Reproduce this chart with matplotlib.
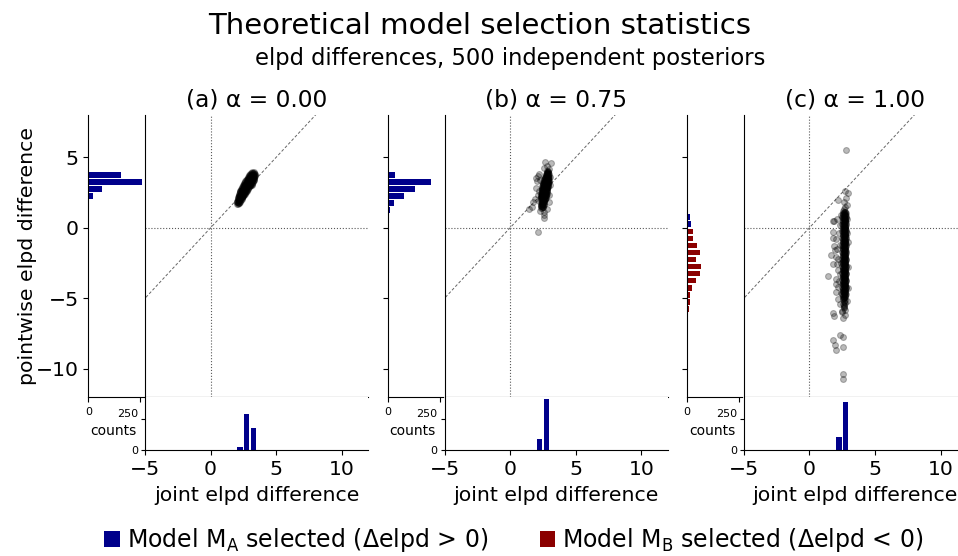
import matplotlib
matplotlib.use('Agg')
import matplotlib.pyplot as plt
from matplotlib.patches import Patch

# ---------------- data ----------------
panel_titles = ['(a) α = 0.00', '(b) α = 0.75', '(c) α = 1.00']

# scatter points (joint elpd difference, pointwise elpd difference)
a_points = [
    (2.02, 1.68), (2.10, 1.70),
    (1.98, 1.80), (2.08, 1.82), (2.18, 1.79),
    (2.04, 1.92), (2.14, 1.94), (2.24, 1.91),
    (2.06, 2.04), (2.16, 2.06), (2.28, 2.03), (2.36, 2.05),
    (2.10, 2.16), (2.20, 2.15), (2.32, 2.18), (2.42, 2.16),
    (2.14, 2.28), (2.24, 2.30), (2.36, 2.27), (2.46, 2.29),
    (2.18, 2.40), (2.30, 2.42), (2.42, 2.39), (2.52, 2.41), (2.60, 2.40),
    (2.22, 2.52), (2.34, 2.54), (2.46, 2.51), (2.58, 2.53), (2.68, 2.52),
    (2.28, 2.64), (2.40, 2.66), (2.52, 2.63), (2.64, 2.65), (2.76, 2.64),
    (2.34, 2.76), (2.46, 2.78), (2.58, 2.75), (2.70, 2.77), (2.84, 2.76),
    (2.40, 2.88), (2.52, 2.90), (2.64, 2.87), (2.76, 2.89), (2.90, 2.88),
    (2.48, 3.00), (2.60, 3.02), (2.72, 2.99), (2.84, 3.01), (2.98, 3.00), (3.10, 3.02),
    (2.54, 3.12), (2.66, 3.14), (2.78, 3.11), (2.92, 3.13), (3.04, 3.12), (3.16, 3.14),
    (2.62, 3.24), (2.74, 3.26), (2.86, 3.23), (2.98, 3.25), (3.10, 3.24), (3.22, 3.26),
    (2.70, 3.36), (2.82, 3.38), (2.94, 3.35), (3.06, 3.37), (3.18, 3.36), (3.28, 3.38),
    (2.78, 3.48), (2.90, 3.50), (3.02, 3.47), (3.14, 3.49), (3.26, 3.48), (3.34, 3.50),
    (2.88, 3.60), (3.00, 3.62), (3.12, 3.59), (3.24, 3.61), (3.34, 3.60),
    (2.96, 3.72), (3.08, 3.74), (3.20, 3.71), (3.32, 3.73),
    (3.04, 3.84), (3.16, 3.86), (3.28, 3.83), (3.38, 3.85),
    (3.14, 3.96), (3.28, 3.94),
    (2.95, 3.30), (3.05, 3.45), (3.15, 3.60), (2.85, 3.15), (2.75, 3.00), (3.00, 3.55),
    (2.06, 1.74), (2.14, 1.75),
    (2.03, 1.86), (2.13, 1.87), (2.21, 1.85),
    (2.09, 1.98), (2.19, 1.99), (2.30, 1.97),
    (2.11, 2.10), (2.22, 2.11), (2.33, 2.09), (2.40, 2.10),
    (2.15, 2.22), (2.26, 2.23), (2.37, 2.21), (2.45, 2.22),
    (2.19, 2.34), (2.30, 2.35), (2.41, 2.33), (2.50, 2.34), (2.56, 2.35),
    (2.24, 2.46), (2.36, 2.47), (2.48, 2.45), (2.57, 2.46), (2.64, 2.47),
    (2.28, 2.58), (2.40, 2.59), (2.52, 2.57), (2.63, 2.58), (2.72, 2.59),
    (2.31, 2.70), (2.43, 2.71), (2.55, 2.69), (2.67, 2.70), (2.80, 2.71),
    (2.37, 2.82), (2.49, 2.83), (2.61, 2.81), (2.73, 2.82), (2.87, 2.83),
    (2.44, 2.94), (2.56, 2.95), (2.68, 2.93), (2.80, 2.94), (2.94, 2.95), (3.04, 2.93),
    (2.51, 3.06), (2.63, 3.07), (2.75, 3.05), (2.88, 3.06), (3.01, 3.07), (3.13, 3.05),
    (2.58, 3.18), (2.70, 3.19), (2.82, 3.17), (2.95, 3.18), (3.07, 3.19), (3.19, 3.17),
    (2.66, 3.30), (2.78, 3.31), (2.90, 3.29), (3.02, 3.30), (3.14, 3.31), (3.25, 3.29),
    (2.74, 3.42), (2.86, 3.43), (2.98, 3.41), (3.10, 3.42), (3.22, 3.43), (3.31, 3.41),
    (2.83, 3.54), (2.95, 3.55), (3.07, 3.53), (3.19, 3.54), (3.30, 3.55),
    (2.92, 3.66), (3.04, 3.67), (3.16, 3.65), (3.28, 3.66), (3.36, 3.67),
    (3.00, 3.78), (3.12, 3.79), (3.24, 3.77), (3.35, 3.78),
    (3.09, 3.90), (3.22, 3.91), (3.33, 3.89),
]

b_points = [
    (2.36, 1.40), (2.46, 1.42),
    (2.34, 1.52), (2.44, 1.54), (2.52, 1.51),
    (2.38, 1.64), (2.46, 1.66), (2.55, 1.63),
    (2.36, 1.76), (2.45, 1.78), (2.54, 1.75),
    (2.40, 1.88), (2.50, 1.90), (2.58, 1.87),
    (2.38, 2.00), (2.48, 2.02), (2.58, 1.99), (2.66, 2.01),
    (2.34, 2.12), (2.42, 2.14), (2.52, 2.11), (2.60, 2.13), (2.70, 2.12),
    (2.36, 2.24), (2.44, 2.26), (2.54, 2.23), (2.62, 2.25), (2.72, 2.24),
    (2.38, 2.36), (2.46, 2.38), (2.56, 2.35), (2.64, 2.37), (2.74, 2.36),
    (2.36, 2.48), (2.46, 2.50), (2.56, 2.47), (2.66, 2.49), (2.76, 2.48),
    (2.40, 2.60), (2.50, 2.62), (2.58, 2.59), (2.68, 2.61), (2.78, 2.60),
    (2.42, 2.72), (2.50, 2.74), (2.60, 2.71), (2.70, 2.73), (2.80, 2.72),
    (2.44, 2.84), (2.54, 2.86), (2.62, 2.83), (2.72, 2.85), (2.82, 2.84),
    (2.46, 2.96), (2.56, 2.98), (2.66, 2.95), (2.76, 2.97), (2.86, 2.96),
    (2.48, 3.08), (2.58, 3.10), (2.68, 3.07), (2.78, 3.09), (2.88, 3.08),
    (2.52, 3.20), (2.62, 3.22), (2.72, 3.19), (2.82, 3.21), (2.90, 3.20),
    (2.56, 3.32), (2.66, 3.34), (2.76, 3.31), (2.86, 3.33), (2.92, 3.32),
    (2.62, 3.44), (2.72, 3.46), (2.82, 3.43), (2.90, 3.45),
    (2.66, 3.56), (2.76, 3.58), (2.86, 3.55), (2.92, 3.57),
    (2.70, 3.68), (2.80, 3.70), (2.90, 3.67),
    (2.74, 3.80), (2.84, 3.82), (2.92, 3.79),
    (2.80, 3.92), (2.90, 3.94),
    (2.84, 4.02), (2.92, 4.04),
    (2.40, 1.46), (2.49, 1.47),
    (2.39, 1.58), (2.48, 1.59),
    (2.41, 1.70), (2.50, 1.71), (2.58, 1.69),
    (2.40, 1.82), (2.49, 1.83), (2.57, 1.81),
    (2.43, 1.94), (2.53, 1.95), (2.62, 1.93),
    (2.43, 2.06), (2.53, 2.07), (2.63, 2.05), (2.68, 2.06),
    (2.38, 2.18), (2.47, 2.19), (2.56, 2.17), (2.65, 2.18),
    (2.40, 2.30), (2.49, 2.31), (2.59, 2.29), (2.68, 2.30), (2.76, 2.31),
    (2.41, 2.42), (2.51, 2.43), (2.60, 2.41), (2.70, 2.42), (2.78, 2.43),
    (2.41, 2.54), (2.51, 2.55), (2.61, 2.53), (2.71, 2.54), (2.80, 2.55),
    (2.45, 2.66), (2.54, 2.67), (2.63, 2.65), (2.73, 2.66), (2.82, 2.67),
    (2.47, 2.78), (2.56, 2.79), (2.66, 2.77), (2.76, 2.78), (2.84, 2.79),
    (2.49, 2.90), (2.59, 2.91), (2.68, 2.89), (2.78, 2.90), (2.86, 2.91),
    (2.51, 3.02), (2.61, 3.03), (2.71, 3.01), (2.81, 3.02), (2.89, 3.03),
    (2.53, 3.14), (2.63, 3.15), (2.73, 3.13), (2.83, 3.14), (2.91, 3.15),
    (2.57, 3.26), (2.67, 3.27), (2.77, 3.25), (2.86, 3.26), (2.93, 3.27),
    (2.60, 3.38), (2.70, 3.39), (2.79, 3.37), (2.88, 3.38), (2.94, 3.39),
    (2.65, 3.50), (2.75, 3.51), (2.84, 3.49), (2.92, 3.50),
    (2.69, 3.62), (2.79, 3.63), (2.88, 3.61), (2.94, 3.62),
    (2.73, 3.74), (2.83, 3.75), (2.92, 3.73),
    (2.78, 3.86), (2.87, 3.87), (2.94, 3.85),
    (2.83, 3.98), (2.91, 3.99),
    (2.67, 4.68), (3.10, 4.60), (2.55, 4.25), (2.85, 4.35), (2.95, 4.20), (1.45, 1.30),
    (1.70, 1.50), (1.90, 2.05), (1.95, 2.80), (2.05, 3.30), (2.00, 3.55), (2.15, 3.70),
    (2.20, 3.80), (2.25, 3.40), (2.18, 2.60), (2.10, 2.30), (2.20, 1.90), (2.09, -0.31),
    (2.60, 0.94), (2.62, 0.66), (2.55, 1.10), (1.75, 1.80), (2.85, 1.30), (2.95, 1.80),
    (3.00, 2.30), (3.05, 3.00), (3.02, 3.60), (2.30, 1.20),
]

c_points = [
    (2.56, 1.18), (2.68, 1.14),
    (2.54, 1.05), (2.64, 1.02), (2.76, 1.07),
    (2.58, 0.93), (2.68, 0.89), (2.74, 0.95),
    (2.52, 0.80), (2.63, 0.77), (2.77, 0.82),
    (2.56, 0.68), (2.70, 0.64), (2.79, 0.70),
    (2.54, 0.55), (2.66, 0.52), (2.75, 0.57),
    (2.58, 0.43), (2.68, 0.39), (2.74, 0.45),
    (2.52, 0.30), (2.63, 0.27), (2.77, 0.32),
    (2.56, 0.18), (2.70, 0.14), (2.79, 0.20),
    (2.54, 0.05), (2.66, 0.02), (2.75, 0.07),
    (2.58, -0.07), (2.68, -0.11), (2.74, -0.05),
    (2.52, -0.20), (2.63, -0.23), (2.77, -0.18),
    (2.56, -0.32), (2.70, -0.36), (2.79, -0.30),
    (2.54, -0.45), (2.66, -0.48), (2.75, -0.43),
    (2.58, -0.57), (2.68, -0.61), (2.74, -0.55),
    (2.52, -0.70), (2.63, -0.73), (2.77, -0.68),
    (2.56, -0.82), (2.70, -0.86), (2.79, -0.80),
    (2.54, -0.95), (2.66, -0.98), (2.75, -0.93),
    (2.58, -1.07), (2.68, -1.11), (2.74, -1.05),
    (2.52, -1.20), (2.63, -1.23), (2.77, -1.18),
    (2.56, -1.32), (2.70, -1.36), (2.79, -1.30),
    (2.54, -1.45), (2.66, -1.48), (2.75, -1.43),
    (2.58, -1.57), (2.68, -1.61), (2.74, -1.55),
    (2.52, -1.70), (2.63, -1.73), (2.77, -1.68),
    (2.56, -1.82), (2.70, -1.86), (2.79, -1.80),
    (2.54, -1.95), (2.66, -1.98), (2.75, -1.93),
    (2.58, -2.07), (2.68, -2.11), (2.74, -2.05),
    (2.52, -2.20), (2.63, -2.23), (2.77, -2.18),
    (2.56, -2.32), (2.70, -2.36), (2.79, -2.30),
    (2.54, -2.45), (2.66, -2.48), (2.75, -2.43),
    (2.58, -2.57), (2.68, -2.61), (2.74, -2.55),
    (2.52, -2.70), (2.63, -2.73), (2.77, -2.68),
    (2.56, -2.82), (2.70, -2.86), (2.79, -2.80),
    (2.54, -2.95), (2.66, -2.98), (2.75, -2.93),
    (2.58, -3.07), (2.68, -3.11), (2.74, -3.05),
    (2.52, -3.20), (2.63, -3.23), (2.77, -3.18),
    (2.56, -3.32), (2.70, -3.36), (2.79, -3.30),
    (2.54, -3.45), (2.66, -3.48), (2.75, -3.43),
    (2.58, -3.57), (2.68, -3.61), (2.74, -3.55),
    (2.52, -3.70), (2.63, -3.73), (2.77, -3.68),
    (2.56, -3.82), (2.70, -3.86), (2.79, -3.80),
    (2.54, -3.95), (2.66, -3.98), (2.75, -3.93),
    (2.58, -4.07), (2.68, -4.11), (2.74, -4.05),
    (2.52, -4.20), (2.63, -4.23), (2.77, -4.18),
    (2.56, -4.32), (2.70, -4.36), (2.79, -4.30),
    (2.54, -4.45), (2.66, -4.48), (2.75, -4.43),
    (2.58, -4.57), (2.68, -4.61), (2.74, -4.55),
    (2.52, -4.70), (2.63, -4.73), (2.77, -4.68),
    (2.56, -4.82), (2.70, -4.86),
    (2.54, -4.95), (2.66, -4.98),
    (2.58, -5.07), (2.68, -5.11),
    (2.63, -5.23), (2.72, -5.30),
    (2.60, -5.42), (2.66, -5.55),
    (2.64, -5.70), (2.70, -5.82),
    (2.61, 1.12), (2.71, 1.10), (2.59, 0.99), (2.69, 0.97), (2.61, 0.86), (2.71, 0.84),
    (2.59, 0.74), (2.69, 0.72), (2.61, 0.61), (2.71, 0.59), (2.59, 0.49), (2.69, 0.47),
    (2.61, 0.36), (2.71, 0.34), (2.59, 0.24), (2.69, 0.22), (2.61, 0.11), (2.71, 0.09),
    (2.59, -0.01), (2.69, -0.03), (2.61, -0.14), (2.71, -0.16), (2.59, -0.26), (2.69, -0.28),
    (2.61, -0.39), (2.71, -0.41), (2.59, -0.51), (2.69, -0.53), (2.61, -0.64), (2.71, -0.66),
    (2.59, -0.76), (2.69, -0.78), (2.61, -0.89), (2.71, -0.91), (2.59, -1.01), (2.69, -1.03),
    (2.61, -1.14), (2.71, -1.16), (2.59, -1.26), (2.69, -1.28), (2.61, -1.39), (2.71, -1.41),
    (2.59, -1.51), (2.69, -1.53), (2.61, -1.64), (2.71, -1.66), (2.59, -1.76), (2.69, -1.78),
    (2.61, -1.89), (2.71, -1.91), (2.59, -2.01), (2.69, -2.03), (2.61, -2.14), (2.71, -2.16),
    (2.59, -2.26), (2.69, -2.28), (2.61, -2.39), (2.71, -2.41), (2.59, -2.51), (2.69, -2.53),
    (2.61, -2.64), (2.71, -2.66), (2.59, -2.76), (2.69, -2.78), (2.61, -2.89), (2.71, -2.91),
    (2.59, -3.01), (2.69, -3.03), (2.61, -3.14), (2.71, -3.16), (2.59, -3.26), (2.69, -3.28),
    (2.61, -3.39), (2.71, -3.41), (2.59, -3.51), (2.69, -3.53), (2.61, -3.64), (2.71, -3.66),
    (2.59, -3.76), (2.69, -3.78), (2.61, -3.89), (2.71, -3.91), (2.59, -4.01), (2.69, -4.03),
    (2.61, -4.14), (2.71, -4.16), (2.59, -4.26), (2.69, -4.28), (2.61, -4.39), (2.71, -4.41),
    (2.59, -4.51), (2.69, -4.53), (2.61, -4.64), (2.71, -4.66), (2.59, -4.76), (2.69, -4.78),
    (2.61, -4.89), (2.71, -4.91), (2.62, -5.01), (2.66, -5.20), (2.64, -5.45), (2.67, -5.65),
    (2.80, 5.50), (2.70, 2.60), (2.95, 2.48), (2.18, 1.94), (2.80, 2.13), (2.65, 1.82),
    (2.72, 1.50), (2.62, 1.35), (2.85, 1.60), (1.83, 0.47), (1.90, 0.45), (2.10, 0.60),
    (1.83, -0.31), (1.78, -0.71), (1.85, -1.30), (1.64, -1.94), (1.83, -2.60), (1.45, -3.43),
    (2.00, -4.00), (2.04, -4.55), (2.20, -5.07), (1.83, -6.03), (1.86, -6.27), (2.55, -6.38),
    (2.30, -7.57), (2.60, -7.73), (1.83, -7.97), (1.96, -8.32), (2.04, -8.68), (2.55, -8.42),
    (2.53, -10.40), (2.55, -10.70), (2.95, -1.00), (2.95, -2.80), (2.95, -4.30), (2.10, -1.50),
    (2.20, -2.20), (2.15, -3.00), (2.25, -3.80), (2.05, -0.80), (2.30, 0.20), (2.00, -2.10),
    (2.12, -2.60), (2.30, -1.20), (2.35, -3.30), (2.05, -3.60), (2.40, -4.60), (2.30, -5.40),
    (2.45, -6.00), (2.85, -5.20), (2.90, -0.40), (2.25, -0.40), (1.95, -1.60), (2.40, -2.50),
    (2.88, 0.60), (2.40, 0.90), (2.20, -4.20), (2.50, -5.90), (2.75, -6.20),
]

# marginal histogram of pointwise difference (bin centres, counts)
left_centers_a = [3.75, 3.25, 2.75, 2.25]
left_counts_a = [155, 258, 65, 22]
left_centers_b = [3.75, 3.25, 2.75, 2.25, 1.75, 1.25]
left_counts_b = [36, 205, 132, 79, 32, 9]
left_centers_c = [0.75, 0.25, -0.25, -0.75, -1.25, -1.75, -2.25, -2.75, -3.25, -3.75,
                  -4.25, -4.75, -5.25, -5.75]
left_counts_c = [12, 18, 27, 26, 47, 64, 45, 66, 60, 42, 23, 13, 13, 7]

# marginal histogram of joint difference
bottom_centers_a = [2.25, 2.75, 3.25]
bottom_counts_a = [30, 290, 180]
bottom_centers_b = [2.25, 2.75]
bottom_counts_b = [90, 410]
bottom_centers_c = [2.25, 2.75]
bottom_counts_c = [110, 390]

x_ticks = [-5, 0, 5, 10]
y_ticks = [-10, -5, 0, 5]
count_ticks = [0, 250]

# ---------------- figure ----------------
BLUE = '#00008b'
RED = '#8b0000'
W, H = 958, 556
fig = plt.figure(figsize=(W / 100, H / 100), dpi=100)


def rect(x0, y0, x1, y1):
    return [x0 / W, 1 - y1 / H, (x1 - x0) / W, (y1 - y0) / H]


panels = [
    (a_points, left_centers_a, left_counts_a, bottom_centers_a, bottom_counts_a),
    (b_points, left_centers_b, left_counts_b, bottom_centers_b, bottom_counts_b),
    (c_points, left_centers_c, left_counts_c, bottom_centers_c, bottom_counts_c),
]
offsets = [0, 299.5, 598.8]
FS = 14.7

for i, (pts, lc, lcnt, bc, bcnt) in enumerate(panels):
    dx = offsets[i]
    axL = fig.add_axes(rect(88.3 + dx, 115, 143.5 + dx, 397))
    axM = fig.add_axes(rect(145 + dx, 115, 368 + dx, 397))
    axB = fig.add_axes(rect(145 + dx, 397, 368 + dx, 450.3))

    sx = [p[0] for p in pts]
    sy = [p[1] for p in pts]

    # main scatter
    axM.axhline(0, color='0.35', lw=0.8, ls=':', zorder=1)
    axM.axvline(0, color='0.35', lw=0.8, ls=':', zorder=1)
    axM.plot([-12, 12], [-12, 12], color='0.4', lw=0.7, ls='--', dashes=(3, 2), zorder=1)
    axM.scatter(sx, sy, s=18, color='black', alpha=0.27, linewidths=0.8, zorder=2)
    axM.set_xlim(-5, 12)
    axM.set_ylim(-12, 8)
    for sp in ['top', 'right']:
        axM.spines[sp].set_visible(False)
    axM.tick_params(left=False, bottom=False, labelleft=False, labelbottom=False)
    axM.set_title(panel_titles[i], fontsize=16.8, pad=6)

    # left marginal histogram
    lcol = [BLUE if c > 0 else RED for c in lc]
    axL.barh(lc, lcnt, height=0.4, color=lcol)
    axL.set_ylim(-12, 8)
    axL.set_xlim(0, 265)
    for sp in ['top', 'right']:
        axL.spines[sp].set_visible(False)
    axL.set_yticks(y_ticks)
    if i == 0:
        axL.set_yticklabels(['−10', '−5', '0', '5'], fontsize=FS)
    else:
        axL.set_yticklabels([])
    axL.set_xticks(count_ticks)
    axL.set_xticklabels(['0', ''], fontsize=8)
    axL.tick_params(axis='x', pad=3.5)

    # bottom marginal histogram
    bcol = [BLUE if c > 0 else RED for c in bc]
    axB.bar(bc, bcnt, width=0.4, color=bcol)
    axB.set_xlim(-5, 12)
    axB.set_ylim(0, 430)
    for sp in ['top', 'right']:
        axB.spines[sp].set_visible(False)
    axB.set_xticks(x_ticks)
    axB.set_xticklabels(['−5', '0', '5', '10'], fontsize=FS)
    axB.set_yticks(count_ticks)
    labs = axB.set_yticklabels(['0', '250'], fontsize=8)
    labs[1].set_va('bottom')
    axB.tick_params(axis='y', length=3, pad=2)
    axB.set_xlabel('joint elpd difference', fontsize=FS, labelpad=5)
    axB.text(-0.143, 0.37, 'counts', transform=axB.transAxes, fontsize=10,
             ha='center', va='center')

fig.text(0.501, 1 - 26 / H, 'Theoretical model selection statistics', fontsize=21,
         ha='center', va='center')
fig.text(510 / W, 1 - 59 / H, 'elpd differences, 500 independent posteriors', fontsize=16.3,
         ha='center', va='center')
fig.text(28 / W, 1 - 256 / H, 'pointwise elpd difference', fontsize=FS, rotation=90,
         ha='center', va='center')

handles = [Patch(facecolor=BLUE, label='Model M$_\\mathregular{A}$ selected (Δelpd > 0)'),
           Patch(facecolor=RED, label='Model M$_\\mathregular{B}$ selected (Δelpd < 0)')]
fig.legend(handles=handles, loc='center', bbox_to_anchor=(514 / W, 1 - 540 / H), ncol=2,
           frameon=False, fontsize=17, handlelength=0.65, handleheight=0.65,
           handletextpad=0.3, columnspacing=2.2, borderaxespad=0)

fig.savefig('out.png', dpi=100)
